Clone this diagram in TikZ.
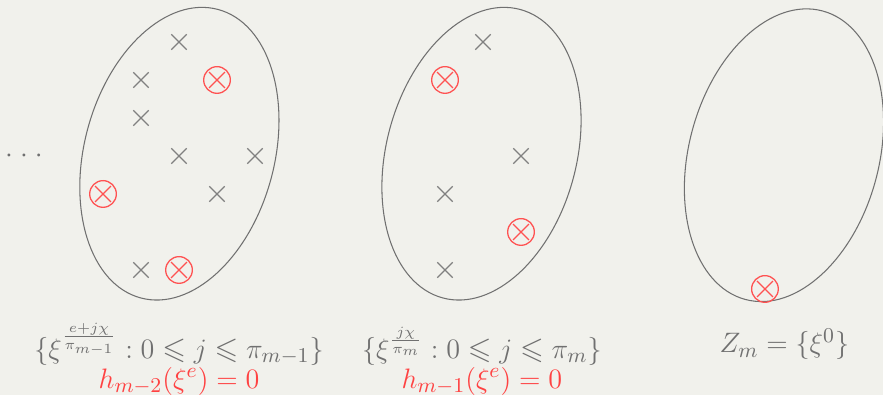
\documentclass[tikz,border=0pt]{standalone}
\usepackage{amsmath,amssymb}
\usetikzlibrary{positioning,shapes.misc,shapes.geometric}
\definecolor{bgpaper}{RGB}{241,241,236}
\definecolor{ptgray}{RGB}{128,128,128}
\definecolor{rimgray}{RGB}{112,112,112}
\definecolor{hitred}{RGB}{255,82,82}
\definecolor{txtgray}{RGB}{112,112,112}
\definecolor{txtred}{RGB}{255,66,66}
\tikzset{
  zset/.style={draw=rimgray,ellipse,line width=0.45pt,inner sep=0pt,minimum width=2.85cm,minimum height=4.48cm,rotate=-15},
  pt/.style={draw=ptgray,cross out,line width=0.55pt,inner sep=0pt,minimum size=0.21cm},
  hitx/.style={draw=hitred,cross out,line width=0.55pt,inner sep=0pt,minimum size=0.22cm},
  hitc/.style={draw=hitred,circle,line width=0.55pt,inner sep=0pt,minimum size=0.4cm},
  setlbl/.style={text=txtgray,anchor=base,inner sep=0pt,font=\fontsize{13}{15}\selectfont},
  eqlbl/.style={text=txtred,anchor=base,inner sep=0pt,font=\fontsize{12.5}{14}\selectfont}
}

\begin{document}
\begin{tikzpicture}[x=0.57cm,y=0.57cm]
  \fill[bgpaper] (-2.711,-6.289) rectangle (20.526,4.105);
  \useasboundingbox (-2.711,-6.289) rectangle (20.526,4.105);

  % the three sets
  \node[zset] (set1) at (2.01,0.06) {};
  \node[zset] (set2) at (9.96,0.06) {};
  \node[zset] (set3) at (17.92,0.02) {};

  \node[text=txtgray,font=\fontsize{13}{15}\selectfont] (dots) at (-2.08,0)
    {${\cdot}\mkern4.5mu{\cdot}\mkern4.5mu{\cdot}$};

  % points
  \foreach \p [count=\i] in {(2,3),(1,2),(1,1),(2,0),(4,0),(3,-1),(1,-3),
      (10,3),(11,0),(9,-1),(9,-3)}
    \node[pt] (x\i) at \p {};

  % roots
  \foreach \p [count=\i] in {(3,2),(0,-1),(2,-3),(9,2),(11,-2),(17.42,-3.5)} {
    \node[hitc] (r\i) at \p {};
    \node[hitx] (rx\i) at (r\i) {};
  }

  \node[setlbl] (lbl1) at (2,-5.33) {$\{\xi^{\frac{e+j\chi}{\pi_{m-1}}} : 0 \leqslant j \leqslant \pi_{m-1}\}$};
  \node[eqlbl] (eq1) at (2,-6.11) {$h_{m-2}(\xi^e) = 0$};
  \node[setlbl] (lbl2) at (9.97,-5.33) {$\{\xi^{\frac{j\chi}{\pi_m}} : 0 \leqslant j \leqslant \pi_m\}$};
  \node[eqlbl] (eq2) at (9.97,-6.11) {$h_{m-1}(\xi^e) = 0$};
  \node[setlbl] (lbl3) at (17.93,-5.18) {$Z_m = \{\xi^0\}$};
\end{tikzpicture}
\end{document}
